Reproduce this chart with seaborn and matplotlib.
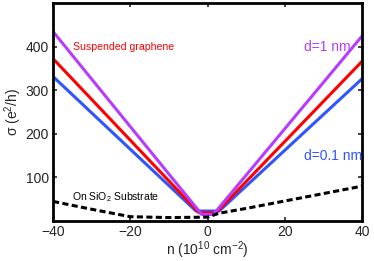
import numpy as np
import pandas as pd
import matplotlib
matplotlib.use("Agg")
import matplotlib.pyplot as plt
import seaborn as sns

sns.set_theme(style="white")
plt.rcParams['font.family'] = ['Liberation Sans', 'DejaVu Sans']
plt.rcParams['mathtext.fontset'] = 'custom'
plt.rcParams['mathtext.rm'] = 'Liberation Sans'
plt.rcParams['mathtext.it'] = 'Liberation Sans'

# Data
n_purple = [-40, -1.5, 1.5, 40]
s_purple = [434, 15, 15, 424]
n_red = [-40, -2.2, 2.2, 40]
s_red = [372, 19, 19, 366]
n_blue = [-40, -3, 3, 40]
s_blue = [331, 23, 23, 326]
n_sio2 = [-40, -30, -20, -10, 0, 3, 10, 20, 30, 40]
s_sio2 = [45, 27, 10, 8, 9, 18, 29, 46, 63, 80]

fig = plt.figure(figsize=(3.74, 2.61), dpi=100)
ax = fig.add_axes([0.142, 0.153, 0.826, 0.836])

c_purple = "#b63cff"
c_red = "#ff0000"
c_blue = "#2f55ff"

sns.lineplot(x=n_blue, y=s_blue, ax=ax, color=c_blue, lw=2.2, sort=False)
sns.lineplot(x=n_red, y=s_red, ax=ax, color=c_red, lw=2.2, sort=False)
sns.lineplot(x=n_purple, y=s_purple, ax=ax, color=c_purple, lw=2.2, sort=False)
sns.lineplot(x=n_sio2, y=s_sio2, ax=ax, color="black", lw=2.2, sort=False,
             linestyle=(0, (2, 1.1)))

ax.set_xlim(-40, 40)
ax.set_ylim(0, 500)
ax.set_xticks([-40, -20, 0, 20, 40])
ax.set_xticklabels(["\u221240", "\u221220", "0", "20", "40"])
ax.set_yticks([100, 200, 300, 400])
ax.tick_params(direction="in", length=3, width=1.2, labelsize=10,
               top=True, right=True, bottom=True, left=True, pad=3)
for sp in ax.spines.values():
    sp.set_linewidth(2)
    sp.set_color("black")

ax.set_xlabel("n (10$^{10}$ cm$^{-2}$)", fontsize=10, labelpad=0)
ax.set_ylabel("\u03c3 (e$^{2}$/h)", fontsize=10, labelpad=1)

ax.text(-34.8, 400, "Suspended graphene", color=c_red, fontsize=7.6, va="center")
ax.text(25.0, 400, "d=1 nm", color=c_purple, fontsize=10, va="center", clip_on=False)
ax.text(25.0, 148, "d=0.1 nm", color=c_blue, fontsize=10, va="center", clip_on=False)
ax.text(-35, 56, "On SiO$_2$ Substrate", color="black", fontsize=7.5, va="center")

fig.savefig("out.png", dpi=100)
